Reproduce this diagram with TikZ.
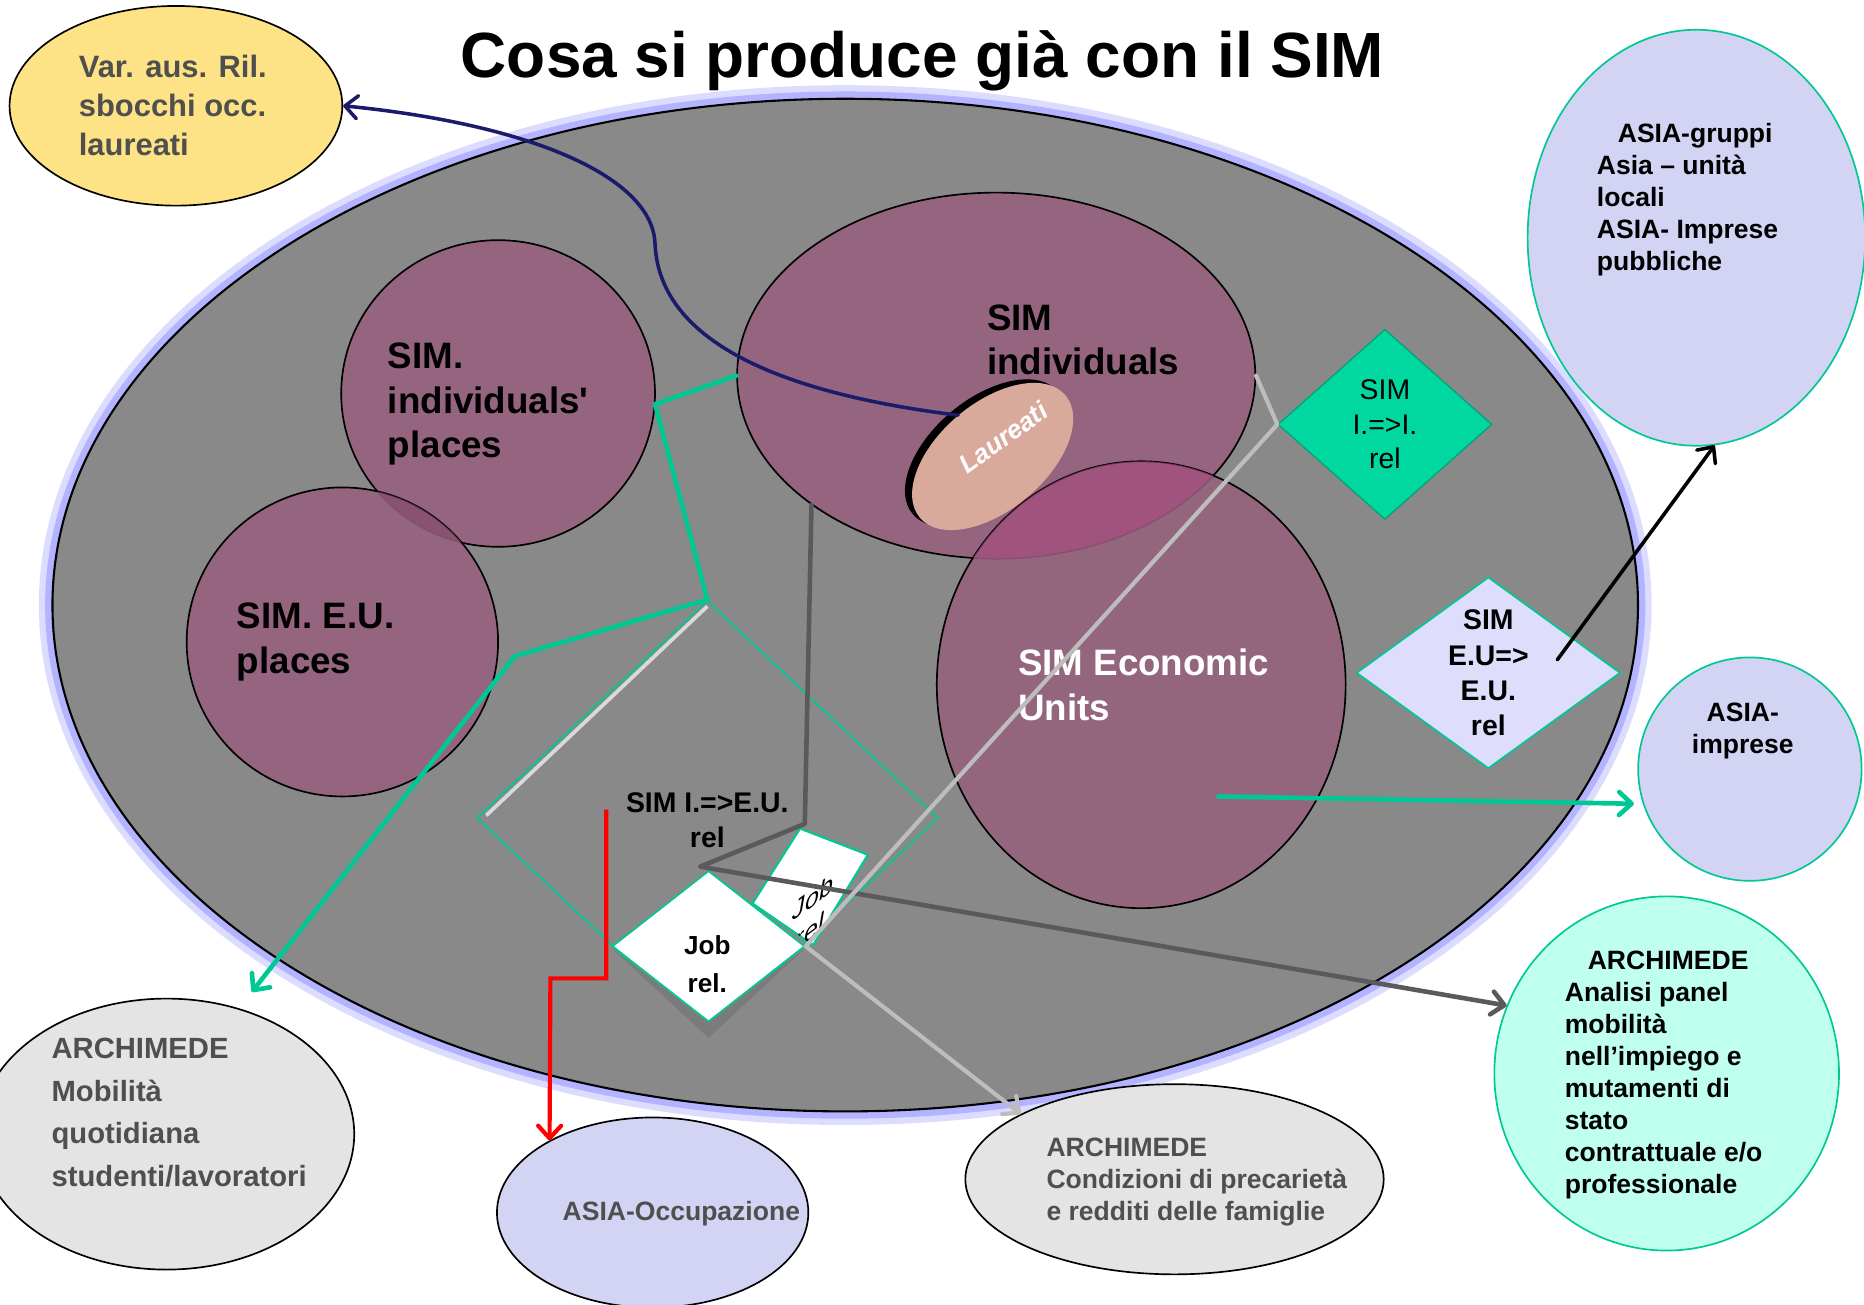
\documentclass[tikz,border=0pt]{standalone}
\usepackage{fontspec}
\setmainfont{Liberation Sans}
\usetikzlibrary{shapes.geometric,arrows.meta}
\definecolor{simgray}{HTML}{898989}
\definecolor{mauve}{HTML}{97607D}
\definecolor{mauvepink}{HTML}{A64B7E}
\definecolor{mauvedark}{HTML}{7F4A68}
\definecolor{glowblue}{HTML}{8C8CFF}
\definecolor{sunyellow}{HTML}{FDE385}
\definecolor{lilac}{HTML}{D3D3F4}
\definecolor{lilaclight}{HTML}{DEDEFC}
\definecolor{mint}{HTML}{BEFFEE}
\definecolor{palegray}{HTML}{E4E4E4}
\definecolor{tealline}{HTML}{00C895}
\definecolor{jade}{HTML}{00D8A0}
\definecolor{navyline}{HTML}{1B1B6B}
\definecolor{darkline}{HTML}{5A5A5A}
\definecolor{lightline}{HTML}{BDBDBD}
\definecolor{inkgray}{HTML}{4F4F4F}
\definecolor{peach}{HTML}{D9A99B}
\newcommand{\bub}[2]{\fontsize{#1}{#2}\selectfont\bfseries}
\tikzset{
	simbub/.style={ellipse, draw=black, line width=0.8pt, fill=mauve, fill opacity=0.9, inner sep=0pt},
	extbub/.style={ellipse, draw=black, line width=0.8pt, inner sep=0pt},
	asiabub/.style={ellipse, draw=tealline, line width=0.8pt, inner sep=0pt},
	relbox/.style={diamond, inner sep=0pt},
	lbl/.style={align=left, inner sep=0pt},
	link/.style={line width=2.2pt, line cap=round, line join=round}
}

\begin{document}
\begin{tikzpicture}[x=0.02cm,y=-0.02cm, >={Straight Barb[length=6pt, width=11pt, round]}]
	\fill[white] (0,0) rectangle (1568,1097);
	\useasboundingbox (0,0) rectangle (1568,1097);
	\node[ellipse, fill=simgray, draw=black, line width=1pt, minimum width=26.68cm, minimum height=17.04cm,
		preaction={draw=glowblue, line width=13pt, draw opacity=0.3},
		preaction={draw=glowblue, line width=7pt, draw opacity=0.5}] (simArea) at (711,509) {};
	\node[anchor=base, font=\bub{30.6}{36}] (title) at (776,65) {Cosa si produce già con il SIM};

	\node[simbub, minimum width=5.28cm, minimum height=5.16cm] (indPlaces) at (419,331) {};
	\node[simbub, minimum width=5.24cm, minimum height=5.2cm] (euPlaces) at (288,540) {};
	\begin{scope}
		\clip (419,331) ellipse [x radius=2.64cm, y radius=2.58cm];
		\fill[mauvedark, opacity=0.6] (288,540) ellipse [x radius=2.62cm, y radius=2.6cm];
	\end{scope}
	\node[simbub, minimum width=8.72cm, minimum height=6.16cm] (simInd) at (838,316) {};
	\node[ellipse, rotate=40, fill=black, minimum width=3.2cm, minimum height=1.8cm] (laureatiRim) at (829,381) {};
	\node[ellipse, rotate=40, fill=peach, minimum width=3.2cm, minimum height=1.8cm] (laureati) at (835,384) {};
	\node[simbub, fill opacity=0.85, minimum width=6.88cm, minimum height=7.52cm] (simEU) at (960,576) {};
	\begin{scope}
		\clip (838,316) ellipse [x radius=4.36cm, y radius=3.08cm];
		\fill[mauvepink, opacity=0.6] (960,576) ellipse [x radius=3.44cm, y radius=3.76cm];
	\end{scope}

	\node[relbox, fill=jade, draw=jade!75!black, line width=0.6pt, minimum width=3.6cm, minimum height=3.2cm] (iiRel) at (1165,357) {};
	\node[relbox, fill=lilaclight, draw=tealline, line width=0.8pt, minimum width=4.44cm, minimum height=3.22cm] (euRel) at (1252,566) {};
	\node[relbox, fill=simgray, draw=tealline, line width=0.8pt, minimum width=7.76cm, minimum height=7.32cm] (ieRel) at (595,688) {};
	\draw[white!70!gray, line width=1.8pt] (409,686) -- (595,510);
	\filldraw[fill=white, draw=tealline, line width=1pt] (673,697) -- (730,719) -- (684,795) -- (633,760) -- cycle;
	\begin{scope}
		\clip (673,697) -- (730,719) -- (684,795) -- (633,760) -- cycle;
		\node[align=center, yslant=0.75, font=\fontsize{12}{15}\selectfont\itshape] (jobRelTwoTxt) at (684,768) {Job\\rel.};
	\end{scope}
	\fill[darkline!80] (514,797) -- (596,873) -- (678,797) -- (596,860) -- cycle;
	\node[relbox, fill=white, draw=tealline, line width=0.8pt, minimum width=3.24cm, minimum height=2.54cm] (jobRel) at (596,796) {};

	\node[extbub, fill=sunyellow, minimum width=5.6cm, minimum height=3.36cm] (varAus) at (148,89) {};
	\node[asiabub, fill=lilac, minimum width=5.68cm, minimum height=7cm] (asiaGr) at (1427,200) {};
	\node[asiabub, fill=lilac, minimum width=3.76cm, minimum height=3.76cm] (asiaImp) at (1472,647) {};
	\node[asiabub, fill=mint, minimum width=5.8cm, minimum height=5.96cm] (archPanel) at (1402,903) {};
	\node[extbub, fill=palegray, minimum width=7.04cm, minimum height=3.2cm] (condiz) at (988,992) {};
	\node[extbub, fill=lilac, minimum width=5.24cm, minimum height=3.2cm] (asiaOcc) at (549,1020) {};
	\node[extbub, fill=palegray, minimum width=6.32cm, minimum height=4.56cm] (archMob) at (140,954) {};

	\node[lbl, anchor=west, text=inkgray, font=\bub{14.8}{18.7}] (varAusTxt) at (66,89) {Var. aus. Ril.\\sbocchi occ.\\laureati};
	\node[lbl, anchor=west, font=\bub{17.6}{21.3}] (indPlacesTxt) at (326,340) {SIM.\\individuals\textquotesingle\\places};
	\node[lbl, anchor=west, font=\bub{17.6}{21.3}] (euPlacesTxt) at (199,540) {SIM. E.U.\\places};
	\node[lbl, anchor=west, font=\bub{17.6}{21.3}] (simIndTxt) at (830,286) {SIM\\individuals};
	\node[lbl, anchor=west, text=white, font=\bub{17.6}{21.3}] (simEUTxt) at (856,576) {SIM Economic\\Units};
	\node[rotate=36, inner sep=0pt, text=white, font=\bub{12.5}{15}\itshape] (laureatiTxt) at (844,368) {Laureati};
	\node[align=center, font=\bub{13.6}{16.4}\mdseries] (iiRelTxt) at (iiRel) {SIM\\I.=>I.\\rel};
	\node[align=center, font=\bub{13.6}{16.8}] (euRelTxt) at (euRel) {SIM\\E.U=>\\E.U.\\rel};
	\node[align=center, font=\bub{13.6}{17}] (ieRelTxt) at (595,690) {SIM I.=>E.U.\\rel};
	\node[align=center, font=\bub{12.5}{18}] (jobRelTxt) at (595,811) {Job\\rel.};
	\node[lbl, anchor=west, font=\bub{12.7}{15.3}] (asiaGrTxt) at (1343,168) {\hspace*{10pt}ASIA-gruppi\\Asia -- unità\\locali\\ASIA- Imprese\\pubbliche};
	\node[align=center, font=\bub{12.7}{15.3}] (asiaImpTxt) at (1466,615) {ASIA-\\imprese};
	\node[lbl, anchor=west, font=\bub{12.7}{15.3}] (archPanelTxt) at (1316,904) {\hspace*{11pt}ARCHIMEDE\\Analisi panel\\mobilità\\nell’impiego e\\mutamenti di\\stato\\contrattuale e/o\\professionale};
	\node[lbl, anchor=west, text=inkgray, font=\bub{12.7}{15.3}] (condizTxt) at (880,994) {ARCHIMEDE\\Condizioni di precarietà\\e redditi delle famiglie};
	\node[lbl, anchor=west, text=inkgray, font=\bub{12.7}{15.3}] (asiaOccTxt) at (473,1021) {ASIA-Occupazione};
	\node[lbl, anchor=west, text=inkgray, font=\bub{14}{20.4}] (archMobTxt) at (43,936) {ARCHIMEDE\\Mobilità\\quotidiana\\studenti/lavoratori};

	\coordinate (redStart) at (510,681);
	\draw[link, navyline, line width=1.7pt, ->] (laureati.north) .. controls (690,335) and (555,300) .. (551,205) .. controls (549,150) and (450,105) .. (varAus.east);
	\draw[link, tealline, ->, shorten >=0.35cm] (simInd.west) -- (551,340) -- (ieRel.north) -- (433,552) -- (archMob.60);
	\draw[link, darkline, ->] (simInd.-145) -- (677,693) -- (589,729) -- (archPanel.157);
	\draw[link, lightline, line width=2pt, ->] (simInd.east) -- (iiRel.west) -- (jobRel.east) -- (condiz.157);
	\draw[link, red, line width=2pt, line cap=butt, line join=miter, ->] (redStart) -- (510,823) -- (463,823) -- (asiaOcc.145);
	\draw[link, tealline, ->, shorten >=0.15cm] ([shift={(65,94)}]simEU.center) -- (asiaImp.-162);
	\draw[link, black, line width=1.7pt, ->] ([shift={(58,-11)}]euRel.center) -- (asiaGr.-85);
\end{tikzpicture}
\end{document}
